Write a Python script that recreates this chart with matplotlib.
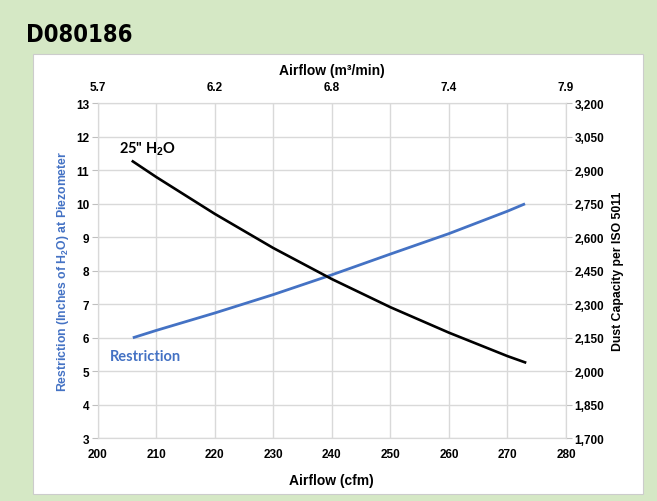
import matplotlib.pyplot as plt
from matplotlib.patches import Rectangle
from matplotlib.ticker import FuncFormatter

plt.rcParams['font.family'] = ['Liberation Sans', 'DejaVu Sans']
plt.rcParams['mathtext.fontset'] = 'custom'
plt.rcParams['mathtext.rm'] = 'Liberation Sans:bold'
plt.rcParams['mathtext.bf'] = 'Liberation Sans:bold'
plt.rcParams['mathtext.it'] = 'Liberation Sans:bold'

# Daten
airflow_cfm = [206, 210, 220, 230, 240, 250, 260, 270, 273]
restriction = [6.0, 6.22, 6.74, 7.29, 7.88, 8.5, 9.11, 9.78, 10.0]
dust_capacity = [2940, 2870, 2705, 2552, 2413, 2287, 2173, 2068, 2040]

top_ticks = [200, 220, 240, 260, 280]
top_labels = ['5.7', '6.2', '6.8', '7.4', '7.9']

blue = '#4472c4'
grid = '#d9d9d9'

fig = plt.figure(figsize=(6.57, 5.02), dpi=100)
fig.patch.set_facecolor('#d5e8c5')
panel = Rectangle((0.0502, 0.0139), 0.9285, 0.8765, transform=fig.transFigure,
                  facecolor='white', edgecolor='#cccccc', lw=0.8, zorder=-10)
fig.add_artist(panel)
fig.text(0.039, 0.931, 'D080186', fontsize=17, fontweight='bold',
         family='DejaVu Sans', fontstretch='condensed', va='center', ha='left')

ax = fig.add_axes([0.1487, 0.1249, 0.7128, 0.6673])
ax.patch.set_alpha(0)
ax.plot(airflow_cfm, restriction, color=blue, lw=2.0, solid_capstyle='butt')
ax.set_xlim(200, 280)
ax.set_ylim(3, 13)
ax.set_xticks(range(200, 281, 10))
ax.set_yticks(range(3, 14))
ax.grid(True, color=grid, lw=1.0)
ax.set_axisbelow(True)
for s in ax.spines.values():
    s.set_color(grid)
ax.tick_params(axis='both', labelsize=8.5, color='#bfbfbf', length=4, pad=2)
ax.tick_params(axis='x', length=0, pad=7)
for lab in ax.get_xticklabels() + ax.get_yticklabels():
    lab.set_fontweight('bold')
ax.set_xlabel('Airflow (cfm)', fontsize=10, fontweight='bold', labelpad=9)
ax.set_ylabel(r'Restriction (Inches of H$_2$O) at Piezometer', fontsize=8.8,
              fontweight='bold', color=blue, labelpad=4)

ax.text(202, 5.45, 'Restriction', color=blue, fontsize=10.5, fontweight='bold',
        family=['Lato', 'Liberation Sans'], va='center', ha='left')
ax.text(203.7, 11.65, r'25" H$_2$O', color='black', fontsize=10.5, fontweight='bold',
        family=['Lato', 'Liberation Sans'], va='center', ha='left')

ax2 = ax.twinx()
ax2.plot(airflow_cfm, dust_capacity, color='black', lw=1.9)
ax2.set_ylim(1700, 3200)
ax2.set_yticks(range(1700, 3201, 150))
ax2.yaxis.set_major_formatter(FuncFormatter(lambda v, p: f'{int(v):,}'))
for s in ax2.spines.values():
    s.set_color(grid)
ax2.tick_params(axis='y', labelsize=8.5, color='#bfbfbf', length=4, pad=2)
for lab in ax2.get_yticklabels():
    lab.set_fontweight('bold')
ax2.set_ylabel('Dust Capacity per ISO 5011', fontsize=8.8, fontweight='bold', labelpad=6)

axt = ax.secondary_xaxis('top')
axt.set_xticks(top_ticks)
axt.set_xticklabels(top_labels, fontsize=8.5, fontweight='bold')
axt.tick_params(axis='x', length=0, pad=7.5)
axt.spines['top'].set_visible(False)
axt.set_xlabel('Airflow (m³/min)', fontsize=10, fontweight='bold', labelpad=5)

fig.savefig('out.png', dpi=100, facecolor=fig.get_facecolor())
